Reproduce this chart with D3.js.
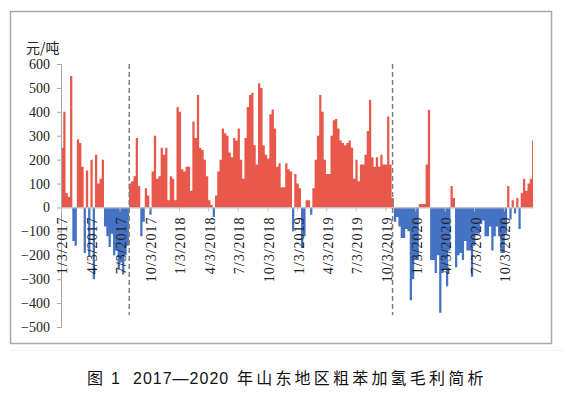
<!DOCTYPE html>
<html>
<head>
<meta charset="utf-8">
<script src="https://cdn.jsdelivr.net/npm/d3@7"></script>
<style>
  body { margin: 0; background: #fff; }
  svg { display: block; }
</style>
</head>
<body>
<div id="chart"></div>
<script>
// weekly gross margin of crude benzene hydrogenation, yuan/ton (weeks start on Tuesdays from 1/3/2017)
const firstWeek = "2017-01-03";
const lastWeek = "2020-12-29";
const axisEnd = "2021-01-01";
const profit = [
    250, 400, 60, 45, 550, -140, -160, 285, 270, 170,
    -190, 155, -200, 200, -300, 220, 100, 120, 200, -80,
    -120, -165, -110, -200, -180, -260, -230, -280, -200, -160,
    100, 110, 130, 290, 90, -120, -60, 80, 50, -30,
    150, 300, 120, 130, 250, 220, 250, 30, 130, 120,
    30, 420, 400, 160, 150, 170, 170, 70, 360, 290,
    470, 250, 240, 200, 130, 30, 10, -40, 50, 150,
    200, 330, 310, 300, 230, 210, 290, 280, 330, 200,
    120, 290, 420, 470, 480, 260, 180, 520, 500, 260,
    220, 205, 390, 410, 330, 170, 185, 85, 85, 185,
    160, 150, -100, 140, 100, 80, -170, -120, 30, 30,
    -30, 80, 200, 300, 470, 400, 200, 140, 140, 300,
    365, 370, 330, 280, 270, 260, 270, 280, 250, 120,
    200, 110, 180, 180, 220, 320, 450, 210, 170, 210,
    170, 220, 180, 180, 380, 180, 40, -60, -40, -80,
    -128, -128, -90, -100, -388, -300, -220, -220, 14, 14,
    14, 180, 408, -220, -220, -274, -200, -440, -274, -260,
    -330, -180, 90, 40, -250, -200, -190, -220, -140, -180,
    -180, -290, -160, -110, -110, -70, -55, -120, -120, -80,
    -180, -120, -80, -120, -190, -190, -110, 90, -50, 30,
    -25, 40, -90, 60, 120, 70, 100, 120, 280
];
const tickLabels = [
    "1/3/2017", "4/3/2017", "7/3/2017", "10/3/2017",
    "1/3/2018", "4/3/2018", "7/3/2018", "10/3/2018",
    "1/3/2019", "4/3/2019", "7/3/2019", "10/3/2019",
    "1/3/2020", "4/3/2020", "7/3/2020", "10/3/2020"
];
const yTicks = [-500, -400, -300, -200, -100, 0, 100, 200, 300, 400, 500, 600];
const dividerDates = ["2017-08-02", "2019-10-25"];
const unitLabel = "元/吨";
const captionParts = ["图", "1", "2017—2020", "年山东地区粗苯加氢毛利简析"];

const parseDay = d3.timeParse("%Y-%m-%d");
const parseTick = d3.timeParse("%m/%d/%Y");

const weeks = d3.timeTuesday.range(parseDay(firstWeek), d3.timeDay.offset(parseDay(lastWeek), 1));
const data = weeks.map((d, i) => ({ date: d, value: profit[i] }));
// closing point so the last week keeps its step up to the end of the axis
data.push({ date: parseDay(axisEnd), value: profit[profit.length - 1] });

const width = 580;
const height = 399;
const serif = "'Liberation Serif', 'DejaVu Serif', serif";
const cjk = "'Noto Sans CJK SC', sans-serif";

const svg = d3.select("#chart")
    .append("svg")
    .attr("width", width)
    .attr("height", height);

// frame
svg.append("rect")
    .attr("x", 10.5)
    .attr("y", 11.5)
    .attr("width", 541)
    .attr("height", 332)
    .attr("fill", "none")
    .attr("stroke", "#a9a9a9")
    .attr("stroke-width", 1.5);

svg.append("line")
    .attr("x1", 10).attr("x2", 564)
    .attr("y1", 350.5).attr("y2", 350.5)
    .attr("stroke", "#f2f2f2");

const xScale = d3.scaleTime()
    .domain([parseDay(firstWeek), parseDay(axisEnd)])
    .range([61, 533]);

const yScale = d3.scaleLinear()
    .domain([-500, 600])
    .range([327, 64]);

const defs = svg.append("defs");
defs.append("clipPath").attr("id", "above")
    .append("rect")
    .attr("x", 0).attr("y", 0)
    .attr("width", width).attr("height", yScale(0));
defs.append("clipPath").attr("id", "below")
    .append("rect")
    .attr("x", 0).attr("y", yScale(0))
    .attr("width", width).attr("height", height - yScale(0));

const area = d3.area()
    .curve(d3.curveStepAfter)
    .x(d => xScale(d.date))
    .y0(yScale(0))
    .y1(d => yScale(d.value));

svg.append("path")
    .datum(data)
    .attr("clip-path", "url(#above)")
    .attr("fill", "#e8594b")
    .attr("d", area);

svg.append("path")
    .datum(data)
    .attr("clip-path", "url(#below)")
    .attr("fill", "#4472c4")
    .attr("d", area);

// y axis
const yAxis = svg.append("g")
    .attr("transform", "translate(61,0)")
    .call(d3.axisLeft(yScale)
        .tickValues(yTicks)
        .tickSize(4)
        .tickPadding(7)
        .tickFormat(d => d < 0 ? "−" + Math.abs(d) : d));

yAxis.select(".domain").attr("stroke", "#a6a6a6");
yAxis.selectAll("line").attr("stroke", "#a6a6a6");
yAxis.selectAll("text")
    .attr("font-family", serif)
    .attr("font-size", "14px")
    .attr("fill", "#222");

// x axis on the zero line
const xAxis = svg.append("g")
    .attr("transform", `translate(0,${yScale(0)})`)
    .call(d3.axisBottom(xScale)
        .tickValues(tickLabels.map(parseTick))
        .tickSize(4)
        .tickSizeOuter(0)
        .tickFormat(d3.timeFormat("%-m/%-d/%Y")));

xAxis.select(".domain").attr("stroke", "#bfbfbf");
xAxis.selectAll("line").attr("stroke", "#bfbfbf");
xAxis.selectAll("text")
    .attr("font-family", serif)
    .attr("font-size", "14px")
    .attr("letter-spacing", "1px")
    .attr("fill", "#222")
    .attr("transform", "rotate(-90)")
    .attr("text-anchor", "end")
    .attr("x", -9)
    .attr("y", 1)
    .attr("dy", "0.35em");

// dashed dividers
svg.selectAll(".divider")
    .data(dividerDates.map(parseDay))
    .enter()
    .append("line")
    .attr("class", "divider")
    .attr("x1", d => xScale(d))
    .attr("x2", d => xScale(d))
    .attr("y1", yScale(600))
    .attr("y2", yScale(-450))
    .attr("stroke", "#808080")
    .attr("stroke-width", 1.5)
    .attr("stroke-dasharray", "5,3");

svg.append("text")
    .attr("x", 26)
    .attr("y", 53)
    .attr("font-family", cjk)
    .attr("font-size", "14px")
    .attr("fill", "#222")
    .text(unitLabel);

const caption = svg.append("text")
    .attr("y", 384)
    .attr("font-size", "16px")
    .attr("fill", "#111");

caption.append("tspan").attr("x", 87).attr("font-family", cjk).text(captionParts[0]);
caption.append("tspan").attr("x", 111).attr("font-family", "'Liberation Sans', sans-serif").text(captionParts[1]);
caption.append("tspan").attr("x", 133).attr("font-family", "'Liberation Sans', sans-serif")
    .attr("letter-spacing", "1px").text(captionParts[2]);
caption.append("tspan").attr("x", 237).attr("font-family", cjk).attr("letter-spacing", "3.2px").text(captionParts[3]);
</script>
</body>
</html>
